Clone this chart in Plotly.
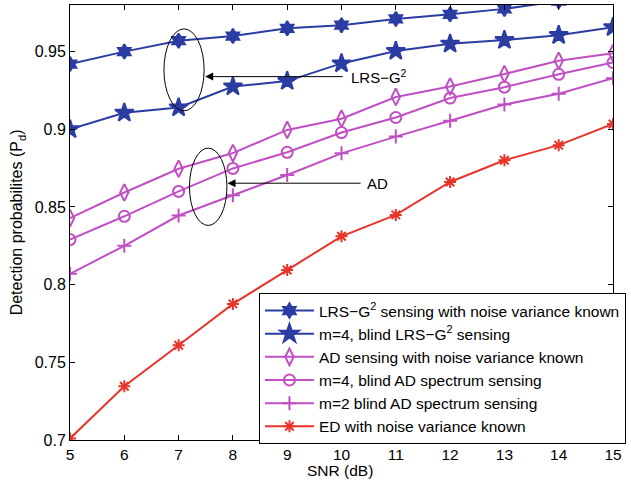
import plotly.graph_objects as go

snr = [5, 6, 7, 8, 9, 10, 11, 12, 13, 14, 15]
lrs_known = [0.942, 0.950, 0.957, 0.960, 0.965, 0.967, 0.971, 0.974, 0.9775, 0.9825, 0.986]
lrs_blind = [0.900, 0.9106, 0.914, 0.9275, 0.931, 0.9424, 0.9504, 0.955, 0.9574, 0.9606, 0.9657]
ad_known = [0.8428, 0.8593, 0.8746, 0.8847, 0.8996, 0.9068, 0.9208, 0.9275, 0.9356, 0.9441, 0.949]
ad_m4 = [0.829, 0.844, 0.860, 0.8748, 0.8852, 0.8979, 0.9076, 0.9201, 0.9271, 0.9354, 0.943]
ad_m2 = [0.807, 0.825, 0.8445, 0.8576, 0.8706, 0.8845, 0.8953, 0.9055, 0.9159, 0.9229, 0.9329]
ed_known = [0.701, 0.7346, 0.761, 0.7876, 0.8094, 0.8311, 0.8449, 0.8661, 0.8801, 0.8898, 0.9034]

y_ticks = [0.7, 0.75, 0.8, 0.85, 0.9, 0.95]
y_tick_labels = ["0.7", "0.75", "0.8", "0.85", "0.9", "0.95"]

names = [
    "LRS\u2212G<sup>2</sup> sensing with noise variance known",
    "m=4, blind LRS\u2212G<sup>2</sup> sensing",
    "AD sensing with noise variance known",
    "m=4, blind AD spectrum sensing",
    "m=2 blind AD spectrum sensing",
    "ED with noise variance known",
]

BLUE = "#2b3ca2"
MAG = "#c14fc4"
RED = "#e8352b"

series = [
    (lrs_known, names[0], BLUE, "hexagram", 11),
    (lrs_blind, names[1], BLUE, "star", 14),
    (ad_known, names[2], MAG, "diamond-tall-open", 12),
    (ad_m4, names[3], MAG, "circle-open", 11),
    (ad_m2, names[4], MAG, "cross-thin-open", 10),
    (ed_known, names[5], RED, "asterisk-open", 10),
]

fig = go.Figure()
for vals, nm, col, sym, sz in series:
    fig.add_trace(go.Scatter(
        x=snr, y=vals, name=nm, mode="lines+markers",
        line=dict(color=col, width=2),
        marker=dict(symbol=sym, size=sz, color=col, line=dict(color=col, width=2)),
    ))

FAM = "Liberation Sans, Arial, sans-serif"
font = dict(family=FAM, size=15, color="black")

fig.update_layout(
    width=631, height=486,
    margin=dict(l=70, r=7, t=5, b=46),
    plot_bgcolor="white", paper_bgcolor="white",
    font=font,
    showlegend=True,
    legend=dict(
        x=0.348, y=0.338, xanchor="left", yanchor="top",
        bgcolor="white", bordercolor="black", borderwidth=1,
        font=dict(family=FAM, size=15.5, color="black"),
        tracegroupgap=0, itemwidth=49,
    ),
    xaxis=dict(
        range=[5, 15], tickvals=snr, ticktext=[str(v) for v in snr],
        showline=True, linecolor="black", linewidth=1, mirror="ticks",
        ticks="inside", ticklen=5, tickcolor="black",
        showgrid=False, zeroline=False, automargin=False,
        ticklabeloverflow="allow", tickfont=dict(family=FAM, size=15.5),
    ),
    yaxis=dict(
        range=[0.7, 0.98], tickvals=y_ticks, ticktext=y_tick_labels,
        showline=True, linecolor="black", linewidth=1, mirror="ticks",
        ticks="inside", ticklen=5, tickcolor="black",
        showgrid=False, zeroline=False, automargin=False,
        ticklabeloverflow="allow", tickfont=dict(family=FAM, size=16),
    ),
)

# Axis titles
fig.add_annotation(x=0.497, y=-0.071, xref="paper", yref="paper", text="SNR (dB)",
                   showarrow=False, xanchor="center", yanchor="middle",
                   font=dict(family=FAM, size=15.5, color="black"))
fig.add_annotation(x=-0.096, y=0.5, xref="paper", yref="paper",
                   text="Detection probabilites (P<sub>d</sub>)", textangle=-90,
                   showarrow=False, xanchor="center", yanchor="middle",
                   font=dict(family=FAM, size=16, color="black"))

# Ellipses
fig.add_shape(type="circle", xref="x", yref="y", x0=6.73, x1=7.47, y0=0.9119, y1=0.9646,
              line=dict(color="black", width=1))
fig.add_shape(type="circle", xref="x", yref="y", x0=7.2, x1=7.89, y0=0.8381, y1=0.8879,
              line=dict(color="black", width=1))

# Arrows
fig.add_annotation(x=7.49, y=0.9339, ax=10.05, ay=0.9339, xref="x", yref="y",
                   axref="x", ayref="y", text="", showarrow=True,
                   arrowhead=2, arrowsize=1.6, arrowwidth=1, arrowcolor="black")
fig.add_annotation(x=7.9, y=0.8653, ax=10.38, ay=0.8653, xref="x", yref="y",
                   axref="x", ayref="y", text="", showarrow=True,
                   arrowhead=2, arrowsize=1.6, arrowwidth=1, arrowcolor="black")
fig.add_annotation(x=10.14, y=0.9339, xref="x", yref="y", text="LRS\u2212G<sup>2</sup>",
                   showarrow=False, xanchor="left", yanchor="middle", font=font)
fig.add_annotation(x=10.43, y=0.8653, xref="x", yref="y", text="AD",
                   showarrow=False, xanchor="left", yanchor="middle", font=font)

fig.write_html("out.html", config={"displayModeBar": False},
               post_script="document.body.style.margin='0px';")
